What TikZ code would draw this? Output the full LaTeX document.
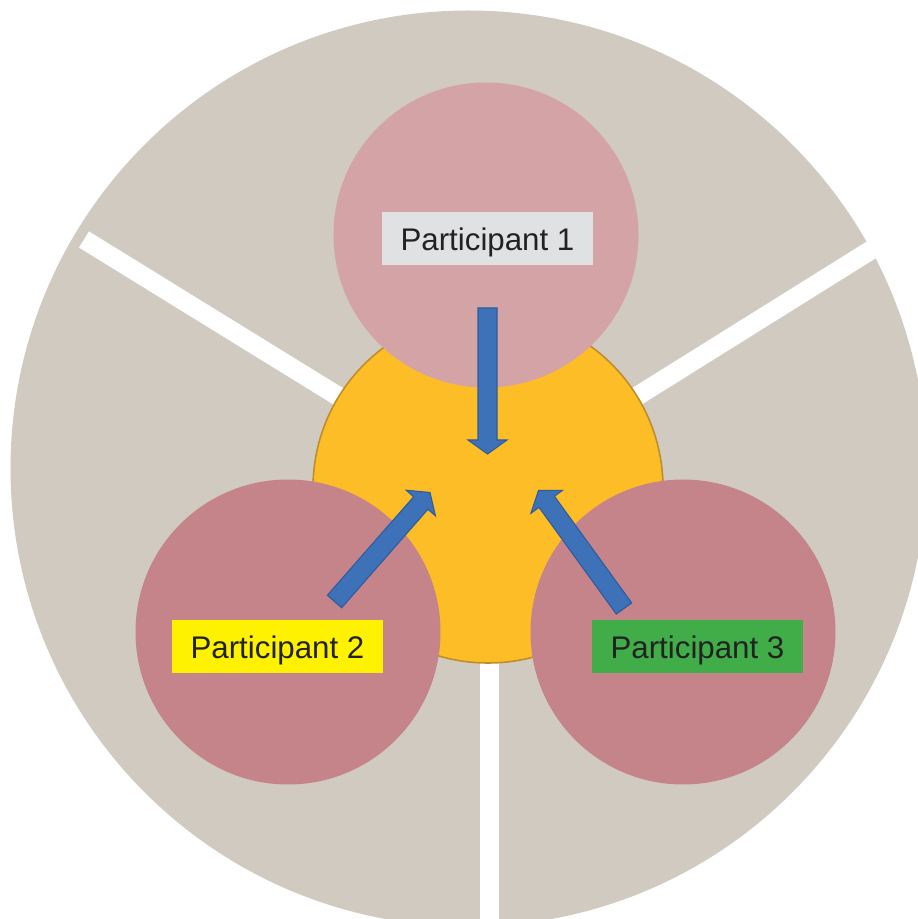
\documentclass[tikz,border=0pt]{standalone}
\usepackage{fontspec}
\setmainfont{Liberation Sans}
\usetikzlibrary{calc}

\definecolor{bege}{HTML}{D0CAC0}
\definecolor{amarelo}{HTML}{FDBD26}
\definecolor{amareloborda}{HTML}{BE8E2A}
\definecolor{rosaclaro}{HTML}{D4A3A6}
\definecolor{rosa}{HTML}{C5848A}
\definecolor{azul}{HTML}{3D72B9}
\definecolor{azulescuro}{HTML}{2D5B9C}
\definecolor{cinza}{HTML}{E0E1E2}
\definecolor{amarelorot}{HTML}{FFF200}
\definecolor{verde}{HTML}{41AD49}
\definecolor{texto}{HTML}{222222}

% seta larga de #1 ate #2
\newcommand\seta[2]{%
  \coordinate (pescoco) at ($(#2)!0.28cm!(#1)$);
  \filldraw[fluxo] ($(#1)!0.19cm!90:(#2)$) -- ($(pescoco)!0.19cm!90:(#2)$)
    -- ($(pescoco)!0.39cm!90:(#2)$) -- (#2)
    -- ($(pescoco)!0.39cm!-90:(#2)$) -- ($(pescoco)!0.19cm!-90:(#2)$)
    -- ($(#1)!0.19cm!-90:(#2)$) -- cycle;}

\begin{document}
\begin{tikzpicture}[
  circulo/.style={circle,inner sep=0pt},
  rotulo/.style={minimum width=4.22cm,minimum height=1.06cm,inner sep=0pt,
    text height=0.6cm,text depth=0.1cm,
    text=texto,font=\fontsize{17.8pt}{20pt}\selectfont},
  fenda/.style={draw=white,line width=0.38cm},
  fluxo/.style={fill=azul,draw=azulescuro,line width=0.6pt}]
	\useasboundingbox (0,0) rectangle (18.36,18.38);
	\clip (0,0) rectangle (18.36,18.38);
	% fundo
	\node[circulo,fill=bege,minimum size=18.32cm] (fundo) at (9.37,9.01) {};
	% fendas brancas
	\coordinate (meio) at (9.77,8.60);
	\coordinate (f1) at (1.68,13.59);
	\coordinate (f2) at (18.59,14.11);
	\coordinate (f3) at (9.79,-0.4);
	\draw[fenda] (meio) -- (f1);
	\draw[fenda] (meio) -- (f2);
	\draw[fenda] (9.79,8.60) -- (f3);
	% circulo central
	\node[circulo,fill=amarelo,draw=amareloborda,line width=0.9pt,minimum size=7cm] (centro) at (9.76,8.62) {};
	% participantes
	\node[circulo,fill=rosaclaro,minimum size=6.1cm] (p1) at (9.72,13.68) {};
	\node[circulo,fill=rosa,minimum size=6.1cm] (p2) at (5.76,5.74) {};
	\node[circulo,fill=rosa,minimum size=6.1cm] (p3) at (13.66,5.74) {};
	% setas
	\coordinate (s1) at (9.75,12.22);
	\coordinate (c1) at (9.75,9.30);
	\coordinate (s2) at (6.69,6.35);
	\coordinate (c2) at (8.60,8.53);
	\coordinate (s3) at (12.48,6.21);
	\coordinate (c3) at (10.77,8.57);
	\seta{s1}{c1}
	\seta{s2}{c2}
	\seta{s3}{c3}
	% rotulos
	\node[rotulo,fill=cinza] (r1) at (9.75,13.61) {Participant 1};
	\node[rotulo,fill=amarelorot] (r2) at (5.55,5.45) {Participant 2};
	\node[rotulo,fill=verde] (r3) at (13.95,5.45) {Participant 3};
\end{tikzpicture}
\end{document}
